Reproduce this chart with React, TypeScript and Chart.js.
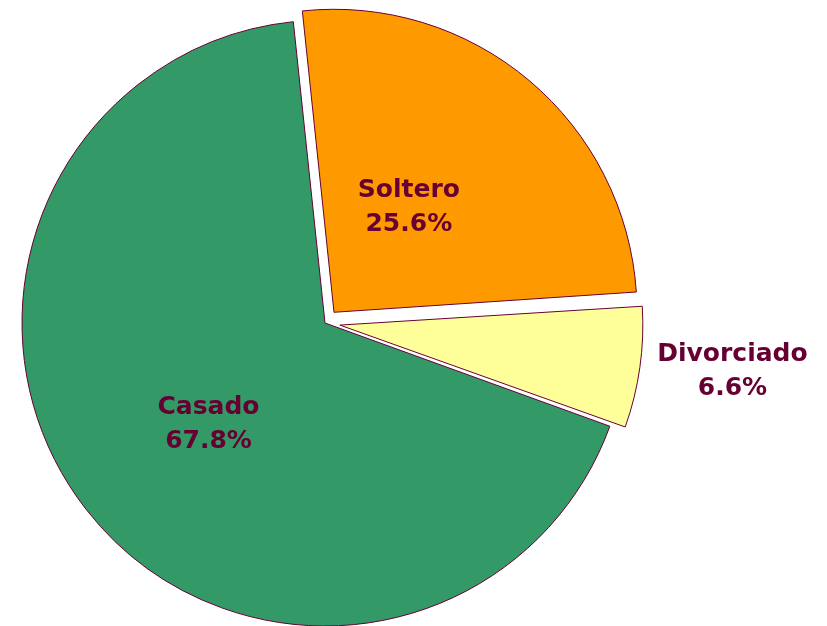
import React, { useEffect, useRef } from "react";
import { Chart, registerables } from "chart.js";

Chart.register(...registerables);

const categories = ["Soltero", "Divorciado", "Casado"];
const percentValues = [25.6, 6.6, 67.8];
const sliceColors = ["#FF9900", "#FFFF99", "#339966"];
const sliceOffsets = [56, 60, 0]; // Chart.js translates by offset / 4
const labelRadiusFactors = [0.471, 1.354, 0.509];
const labelAngleShiftsDeg = [-4.1, -1.3, -2.9];

const RADIUS = 303;
const TEXT_COLOR = "#660033";
const BORDER_COLOR = "#660033";
const FONT = "bold 25px Verdana, 'DejaVu Sans', sans-serif";
const LINE_GAP = 34;

const fixRadiusPlugin = {
  id: "fixRadius",
  afterDatasetUpdate(chart: any, args: any) {
    const meta = args.meta;
    meta.data.forEach((arc: any, i: number) => {
      const off = (sliceOffsets[i] || 0) / 4;
      const circ = arc.endAngle - arc.startAngle;
      const fix = 1 - Math.sin(Math.min(Math.PI, circ));
      arc.outerRadius = RADIUS - off * fix;
    });
  },
};

const labelPlugin = {
  id: "sliceLabels",
  afterDatasetsDraw(chart: any) {
    const meta = chart.getDatasetMeta(0);
    const ctx = chart.ctx;
    ctx.save();
    ctx.font = FONT;
    ctx.fillStyle = TEXT_COLOR;
    ctx.textAlign = "center";
    ctx.textBaseline = "middle";
    meta.data.forEach((arc: any, i: number) => {
      const mid =
        (arc.startAngle + arc.endAngle) / 2 +
        (labelAngleShiftsDeg[i] * Math.PI) / 180;
      const d = labelRadiusFactors[i] * RADIUS;
      const cx = arc.x + Math.cos(mid) * d;
      const cy = arc.y + Math.sin(mid) * d;
      ctx.fillText(categories[i], cx, cy - LINE_GAP / 2);
      ctx.fillText(percentValues[i].toFixed(1) + "%", cx, cy + LINE_GAP / 2);
    });
    ctx.restore();
  },
};

export default function App() {
  const ref = useRef<HTMLCanvasElement | null>(null);

  useEffect(() => {
    document.body.style.margin = "0";
    document.body.style.overflow = "hidden";
    const canvas = ref.current;
    if (!canvas) return;
    const chart = new Chart(canvas, {
      type: "pie",
      data: {
        labels: categories,
        datasets: [
          {
            data: percentValues,
            backgroundColor: sliceColors,
            borderColor: BORDER_COLOR,
            borderWidth: 1,
            offset: sliceOffsets,
            hoverOffset: 0,
          },
        ],
      },
      options: {
        animation: false,
        responsive: false,
        devicePixelRatio: 1,
        rotation: -6,
        radius: RADIUS,
        layout: { padding: { left: 0, top: 0, right: 177, bottom: 14 } },
        plugins: {
          legend: { display: false },
          tooltip: { enabled: false },
        },
        events: [],
      } as any,
      plugins: [fixRadiusPlugin, labelPlugin],
    });
    return () => chart.destroy();
  }, []);

  return (
    <div
      style={{
        position: "fixed",
        left: 0,
        top: 0,
        width: 827,
        height: 626,
        overflow: "hidden",
        background: "#ffffff",
      }}
    >
      <canvas ref={ref} width={827} height={660} style={{ display: "block" }} />
    </div>
  );
}
